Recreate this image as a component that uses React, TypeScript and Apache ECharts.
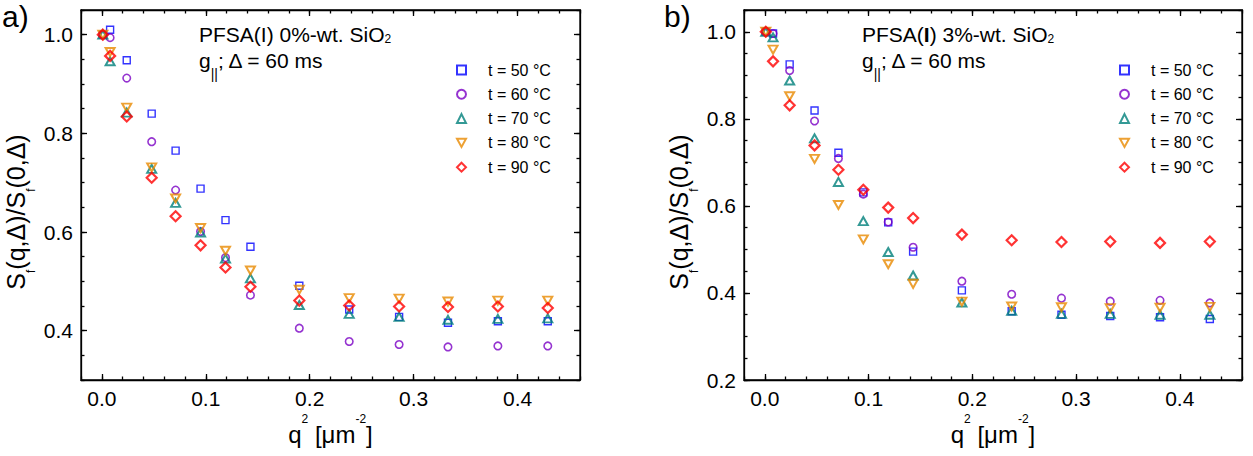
import React, { useEffect, useRef } from 'react';
import * as echarts from 'echarts';

// ---------- data ----------
const Q2 = [0.001, 0.008, 0.024, 0.048, 0.071, 0.095, 0.119, 0.143, 0.19, 0.238, 0.286, 0.333, 0.381, 0.429];
const NAMES = ['t = 50 °C', 't = 60 °C', 't = 70 °C', 't = 80 °C', 't = 90 °C'];

// panel a) PFSA(I) 0%-wt. SiO2
const A_T50 = [1.0, 1.01, 0.948, 0.84, 0.765, 0.688, 0.624, 0.57, 0.491, 0.443, 0.428, 0.416, 0.419, 0.419];
const A_T60 = [1.0, 0.994, 0.912, 0.783, 0.685, 0.601, 0.548, 0.472, 0.405, 0.378, 0.372, 0.367, 0.369, 0.369];
const A_T70 = [1.0, 0.946, 0.842, 0.728, 0.659, 0.599, 0.546, 0.506, 0.452, 0.434, 0.428, 0.422, 0.424, 0.425];
const A_T80 = [1.0, 0.965, 0.852, 0.731, 0.668, 0.608, 0.562, 0.522, 0.483, 0.466, 0.465, 0.459, 0.461, 0.461];
const A_T90 = [1.0, 0.957, 0.834, 0.71, 0.632, 0.573, 0.528, 0.489, 0.461, 0.451, 0.449, 0.448, 0.449, 0.446];

// panel b) PFSA(I) 3%-wt. SiO2
const B_T50 = [1.0, 0.996, 0.925, 0.819, 0.722, 0.631, 0.562, 0.495, 0.406, 0.358, 0.35, 0.347, 0.344, 0.34];
const B_T60 = [1.0, 0.996, 0.911, 0.795, 0.709, 0.627, 0.563, 0.505, 0.427, 0.397, 0.388, 0.381, 0.383, 0.377];
const B_T70 = [1.0, 0.987, 0.888, 0.755, 0.655, 0.565, 0.494, 0.44, 0.378, 0.359, 0.352, 0.352, 0.35, 0.35];
const B_T80 = [1.0, 0.959, 0.852, 0.708, 0.602, 0.523, 0.466, 0.421, 0.38, 0.369, 0.367, 0.365, 0.366, 0.368];
const B_T90 = [1.0, 0.932, 0.831, 0.739, 0.683, 0.637, 0.596, 0.572, 0.534, 0.521, 0.517, 0.518, 0.515, 0.518];

// ---------- axes ----------
const X_MIN = -0.02;
const X_MAX = 0.46;
const X_MINOR_STEP = 0.02;
const X_MAJOR = [0, 0.1, 0.2, 0.3, 0.4];
const YA_MIN = 0.3;
const YA_MAX = 1.05;
const YA_MAJOR = [0.4, 0.6, 0.8, 1.0];
const YB_MIN = 0.2;
const YB_MAX = 1.05;
const YB_MAJOR = [0.2, 0.4, 0.6, 0.8, 1.0];
const Y_MINOR_STEP = 0.05;

const FONT = 'Liberation Sans, Arial, Helvetica, sans-serif';
const INK = '#000000';

const STYLES = [
  { symbol: 'rect', size: 7, color: '#0000ff', bw: 1.4 },
  { symbol: 'circle', size: 7.5, color: '#7a00c4', bw: 1.6 },
  { symbol: 'triangle', size: [9, 8], color: '#00807a', bw: 2 },
  { symbol: 'path://M0,0L10,0L5,9Z', size: [9, 8], color: '#e88a00', bw: 2 },
  { symbol: 'diamond', size: [10, 10], color: '#ff0000', bw: 2.2 },
];

function axisSet(dim: 'x' | 'y', grid: number, min: number, max: number, major: number[], minorStep: number, name?: string) {
  const sides = dim === 'x' ? ['bottom', 'top'] : ['left', 'right'];
  const ls = () => ({ color: INK, width: 1.3 });
  const majorAxis = (position: string, labels: boolean) => {
    const ax: any = {
      type: 'value',
      gridIndex: grid,
      min,
      max,
      position,
      axisLine: { show: true, onZero: false, lineStyle: ls() },
      axisTick: { show: true, inside: true, length: 6, customValues: major, lineStyle: ls() },
      axisLabel: labels
        ? {
            show: true,
            customValues: major,
            formatter: (v: number) => v.toFixed(1),
            color: '#000',
            fontSize: 21,
            fontFamily: FONT,
            margin: 8,
          }
        : { show: false },
      splitLine: { show: false },
    };
    if (labels && name) {
      ax.name = name;
      ax.nameLocation = 'middle';
      ax.nameGap = 33;
      ax.nameMoveOverlap = false;
      ax.nameTextStyle = {
        rich: {
          n: { fontSize: 24, fontFamily: FONT, color: '#000', lineHeight: 33, verticalAlign: 'bottom' },
          sup: { fontSize: 12, fontFamily: FONT, color: '#000', lineHeight: 12, verticalAlign: 'top' },
        },
      };
    }
    return ax;
  };
  const minorAxis = (position: string) => ({
    type: 'value',
    gridIndex: grid,
    min,
    max,
    interval: minorStep,
    position,
    axisLine: { show: false, onZero: false },
    axisTick: { show: true, inside: true, length: 3.5, lineStyle: ls() },
    axisLabel: { show: false },
    splitLine: { show: false },
  });
  return [majorAxis(sides[0], true), minorAxis(sides[0]), majorAxis(sides[1], false), minorAxis(sides[1])];
}

const XNAME = '{n|q}{sup|2}{n| [μm}{sup|-2}{n|]}';

function seriesFor(panel: number, arrays: number[][]) {
  return arrays.map((arr, k) => ({
    type: 'scatter',
    name: NAMES[k],
    xAxisIndex: panel * 4,
    yAxisIndex: panel * 4,
    symbol: STYLES[k].symbol,
    symbolSize: STYLES[k].size,
    itemStyle: { color: 'rgba(255,255,255,0)', borderColor: STYLES[k].color, borderWidth: STYLES[k].bw },
    emphasis: { disabled: true },
    data: Q2.map((x, i) => [x, arr[i]]),
    z: 2 + k,
  }));
}

function legendAt(left: number) {
  return {
    show: true,
    data: NAMES,
    orient: 'vertical',
    left,
    top: 60,
    itemWidth: 9,
    itemHeight: 9,
    itemGap: 4.3,
    selectedMode: false,
    padding: 0,
    textStyle: { fontSize: 16, fontWeight: 'normal', fontFamily: FONT, color: '#000', lineHeight: 20, padding: [0, 0, 0, 17] },
  };
}

function annotation(left: number, boldI: boolean) {
  const title = boldI ? '{n|PFSA(}{b|I}{n|) 3%-wt. SiO}{s|2}' : '{n|PFSA(I) 0%-wt. SiO}{s|2}';
  const rich1 = {
    n: { fontSize: 21, fontFamily: FONT, fill: '#000', lineHeight: 21, verticalAlign: 'top' },
    b: { fontSize: 21, fontFamily: FONT, fontWeight: 'bold', fill: '#000', lineHeight: 21, verticalAlign: 'top' },
    s: { fontSize: 12, fontFamily: FONT, fill: '#000', lineHeight: 12, verticalAlign: 'bottom' },
  };
  const rich2 = {
    n: { fontSize: 21, fontFamily: FONT, fill: '#000', lineHeight: 21, verticalAlign: 'top' },
    s: { fontSize: 14, fontFamily: FONT, fill: '#000', lineHeight: 31, verticalAlign: 'bottom' },
  };
  return [
    { type: 'text', x: left, y: 23.9, style: { text: title, rich: rich1, align: 'left', verticalAlign: 'top' } },
    { type: 'text', x: left, y: 49.9, style: { text: '{n|g}{s|||}{n|; Δ = 60 ms}', rich: rich2, align: 'left', verticalAlign: 'top' } },
  ];
}

function yName(x: number, y: number) {
  return {
    type: 'text',
    x,
    y,
    rotation: Math.PI / 2,
    style: {
      text: '{n|S}{s|f}{n|(q,Δ)/S}{s|f}{n|(0,Δ)}',
      align: 'center',
      verticalAlign: 'top',
      rich: {
        n: { fontSize: 25, fontFamily: FONT, fill: '#000', lineHeight: 25, verticalAlign: 'top' },
        s: { fontSize: 12, fontFamily: FONT, fill: '#000', lineHeight: 33.5, verticalAlign: 'bottom' },
      },
    },
  };
}

function panelLabel(x: number, t: string) {
  return { type: 'text', x, y: 16, style: { text: t, fontSize: 30, fontFamily: FONT, fill: '#000', align: 'left', verticalAlign: 'middle' } };
}

export default function App() {
  const ref = useRef<HTMLDivElement>(null);
  useEffect(() => {
    document.body.style.margin = '0';
    if (!ref.current) return;
    const chart = echarts.init(ref.current, null, { renderer: 'svg' });
    const option: any = {
      animation: false,
      grid: [
        { left: 81, top: 10, width: 499, height: 370, show: true, borderColor: INK, borderWidth: 1.3, backgroundColor: 'rgba(255,255,255,0)' },
        { left: 744, top: 10, width: 498, height: 370, show: true, borderColor: INK, borderWidth: 1.3, backgroundColor: 'rgba(255,255,255,0)' },
      ],
      xAxis: [
        ...axisSet('x', 0, X_MIN, X_MAX, X_MAJOR, X_MINOR_STEP, XNAME),
        ...axisSet('x', 1, X_MIN, X_MAX, X_MAJOR, X_MINOR_STEP, XNAME),
      ],
      yAxis: [
        ...axisSet('y', 0, YA_MIN, YA_MAX, YA_MAJOR, Y_MINOR_STEP),
        ...axisSet('y', 1, YB_MIN, YB_MAX, YB_MAJOR, Y_MINOR_STEP),
      ],
      legend: [legendAt(456), legendAt(1119)],
      tooltip: { show: false },
      series: [
        ...seriesFor(0, [A_T50, A_T60, A_T70, A_T80, A_T90]),
        ...seriesFor(1, [B_T50, B_T60, B_T70, B_T80, B_T90]),
      ],
      graphic: [
        panelLabel(2, 'a)'),
        panelLabel(664, 'b)'),
        ...annotation(199, false),
        ...annotation(862, true),
        yName(3.5, 212),
        yName(666.5, 212),
      ],
    };
    chart.setOption(option);
    return () => chart.dispose();
  }, []);
  return (
    <div style={{ position: 'fixed', left: 0, top: 0, width: 1253, height: 456, background: '#fff' }}>
      <div ref={ref} style={{ width: 1253, height: 456 }} />
    </div>
  );
}
